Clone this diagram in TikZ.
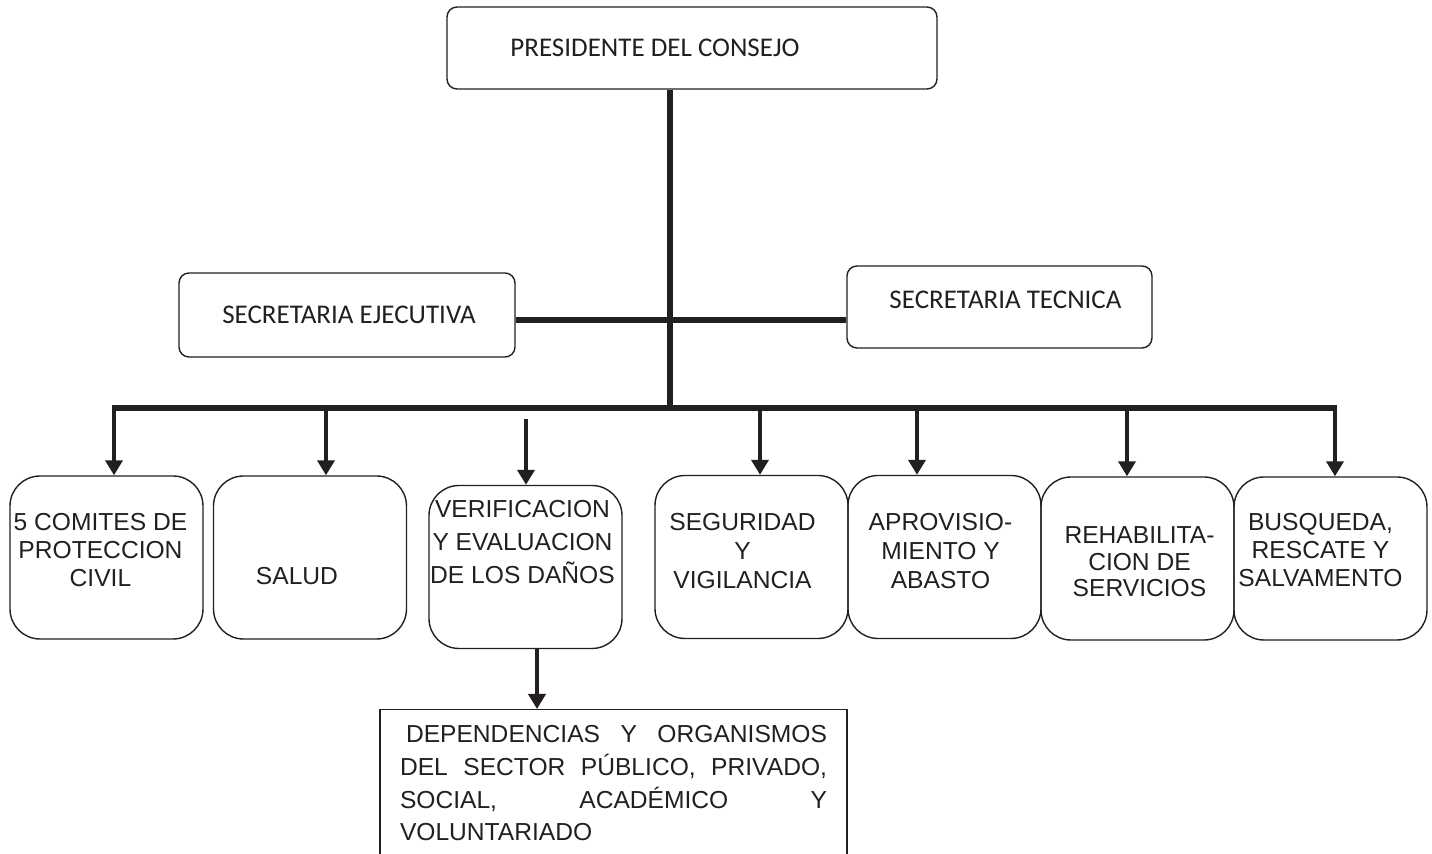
\documentclass[tikz,border=0pt]{standalone}
\usepackage{fontspec}
\setmainfont{Liberation Sans}
\newfontfamily\calibrifont{Carlito}
\usepackage{tikz}
\usetikzlibrary{arrows.meta}
\definecolor{ink}{HTML}{231F20}
\hbadness=10000

\tikzset{
  topbox/.style={draw=ink, line width=0.7pt, rounded corners=5pt, inner sep=0pt},
  lowbox/.style={draw=ink, line width=0.7pt, rounded corners=15pt,
    minimum width=96.5pt, minimum height=81.5pt, inner sep=0pt},
  depbox/.style={draw=ink, line width=0.7pt, text width=213.5pt, align=justify,
    inner xsep=10pt, inner ysep=8pt, text=ink,
    font=\fontsize{12.3}{16.3}\selectfont},
  boxtxt/.style={align=center, text=ink, inner sep=0pt},
  captxt/.style={font=\calibrifont\fontsize{13.5}{16}\selectfont, text=ink, inner sep=0pt},
  trunk/.style={draw=ink, line width=2.7pt},
  arr/.style={draw=ink, line width=2pt, -{Triangle[width=8.5pt,length=7.5pt]}},
}

\begin{document}
\begin{tikzpicture}[x=0.5pt, y=-0.5pt]
\useasboundingbox (0,0) rectangle (1432,854);
\clip (0,0) rectangle (1432,854);

%%%  upper boxes
\node[topbox, minimum width=245pt, minimum height=41pt,
  label={[captxt, shift={(-37,0)}]center:PRESIDENTE DEL CONSEJO}] (pres) at (692,48) {};
\node[topbox, minimum width=168pt, minimum height=42pt,
  label={[captxt, shift={(2,0)}]center:SECRETARIA EJECUTIVA}] (sej) at (347,315) {};
\node[topbox, minimum width=152.5pt, minimum height=41pt,
  label={[captxt, shift={(6,-7)}]center:SECRETARIA TECNICA}] (tec) at (999.5,307) {};

%%%  trunk and bar
\coordinate (jn) at (670,320);
\coordinate (hub) at (670,408);
\coordinate (barL) at (112,408);
\coordinate (barR) at (1337,408);
\draw[trunk] (pres.south -| hub) -- (hub);
\draw[trunk] (sej.east |- jn) -- (tec.west |- jn);
\draw[trunk] (barL) -- (barR);

%%%  lower boxes: name / x / y / text shift / line skip / text
\foreach \n/\x/\y/\dx/\dy/\ls/\t in {
  com/106.5/557.5/-6/-7.5/14/{5 COMITES DE\\PROTECCION\\CIVIL},
  sal/310/557.5/-13/18.5/14/{SALUD},
  ver/525.5/567/-3/-25/16.3/{VERIFICACION\\Y EVALUACION\\DE LOS DAÑOS},
  seg/751.5/557/-9/-6/14.4/{SEGURIDAD\\Y\\VIGILANCIA},
  apr/944.5/557/-4/-6/14.4/{APROVISIO-\\MIENTO Y\\ABASTO},
  reh/1137.5/558.5/2/3.5/13.3/{REHABILITA-\\CION DE\\SERVICIOS},
  bus/1330.5/558.5/-10/-8.5/14/{BUSQUEDA,\\RESCATE Y\\SALVAMENTO}}{%
  \node[lowbox, label={[boxtxt, font=\fontsize{12.3}{\ls}\selectfont,
    shift={(\dx,\dy)}]center:\t}] (\n) at (\x,\y) {};
}

%%%  arrows down from the bar
\foreach \n/\ax/\ay in {com/114/408, sal/326/408, ver/526/419, seg/760/408,
  apr/917/408, reh/1127/408, bus/1335/408}{%
  \coordinate (a\n) at (\ax,\ay);
  \draw[arr] (a\n) -- (a\n |- \n.north);
}

%%%  dependencias
\node[depbox, anchor=north] (dep) at (613.5,709) {\hspace*{3pt}DEPENDENCIAS Y ORGANISMOS\linebreak
  DEL SECTOR PÚBLICO, PRIVADO,\linebreak SOCIAL, ACADÉMICO Y\linebreak
  VOLUNTARIADO\rule[-20pt]{0pt}{0pt}};
\draw[arr] ([xshift=5.75pt]ver.south) -- ([xshift=5.75pt]ver.south |- dep.north);

\end{tikzpicture}
\end{document}
